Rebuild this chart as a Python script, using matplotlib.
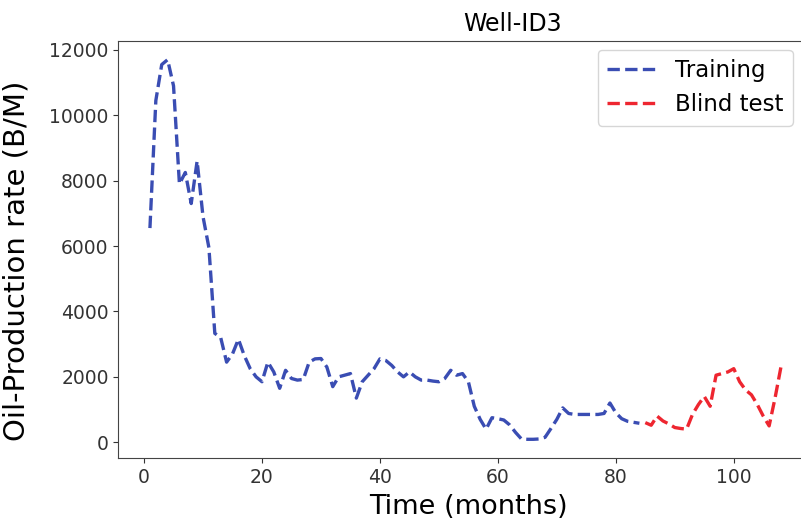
#!/usr/bin/env python3
"""Well-ID3 oil production: training vs blind test."""

import matplotlib

matplotlib.use("Agg")
import matplotlib.pyplot as plt

TRAIN_MONTHS = list(range(1, 85))
TRAIN_RATE = [
    6550, 10450, 11550, 11700, 10900, 7900, 8250, 7300, 8600, 6900,
    5950, 3330, 3200, 2450, 2700, 3150, 2650, 2250, 2000, 1850,
    2450, 2150, 1650, 2200, 1950, 1900, 1920, 2450, 2550, 2560,
    2300, 1700, 2000, 2050, 2100, 1350, 1850, 2050, 2250, 2550,
    2500, 2350, 2150, 2000, 2150, 2000, 1900, 1900, 1870, 1850,
    1950, 2200, 2050, 2100, 1850, 1100, 700, 400, 750, 720,
    680, 530, 300, 100, 90, 90, 100, 150, 420, 700,
    1050, 880, 850, 850, 850, 850, 850, 880, 1200, 900,
    720, 640, 610, 580,
]
TEST_MONTHS = list(range(85, 109))
TEST_RATE = [
    600, 520, 800, 650, 560, 450, 420, 400, 850, 1150,
    1400, 1100, 2050, 2100, 2150, 2250, 1850, 1600, 1450, 1150,
    800, 500, 1350, 2300,
]

plt.rcParams.update({"font.family": "DejaVu Sans"})

figure = plt.figure(figsize=(8.01, 5.27), dpi=100)
axis = figure.add_axes([0.1478, 0.1304, 0.875, 0.7924])

axis.plot(TRAIN_MONTHS, TRAIN_RATE, "--", color="#3a4db3", linewidth=2.4, label="Training")
axis.plot(TEST_MONTHS, TEST_RATE, "--", color="#ee2630", linewidth=2.4, label="Blind test")

axis.set_xlim(-4.35, 114.5)
axis.set_xticks([0, 20, 40, 60, 80, 100])
axis.set_yticks(range(0, 12001, 2000))
axis.tick_params(labelsize=13.5, colors="#333333")
for spine in axis.spines.values():
    spine.set_color("#444444")
axis.spines["right"].set_visible(False)
axis.set_xlabel("Time (months)", fontsize=19.5, labelpad=5)
axis.set_ylabel("Oil-Production rate (B/M)", fontsize=21)
axis.yaxis.set_label_coords(-0.125, 0.472)
axis.set_title("Well-ID3", fontsize=17, x=0.563, pad=7)

axis.legend(
    loc="upper right",
    bbox_to_anchor=(0.9625, 0.978),
    borderaxespad=0,
    fontsize=16.5,
    handlelength=2.2,
)

figure.savefig("out.png", dpi=100)
